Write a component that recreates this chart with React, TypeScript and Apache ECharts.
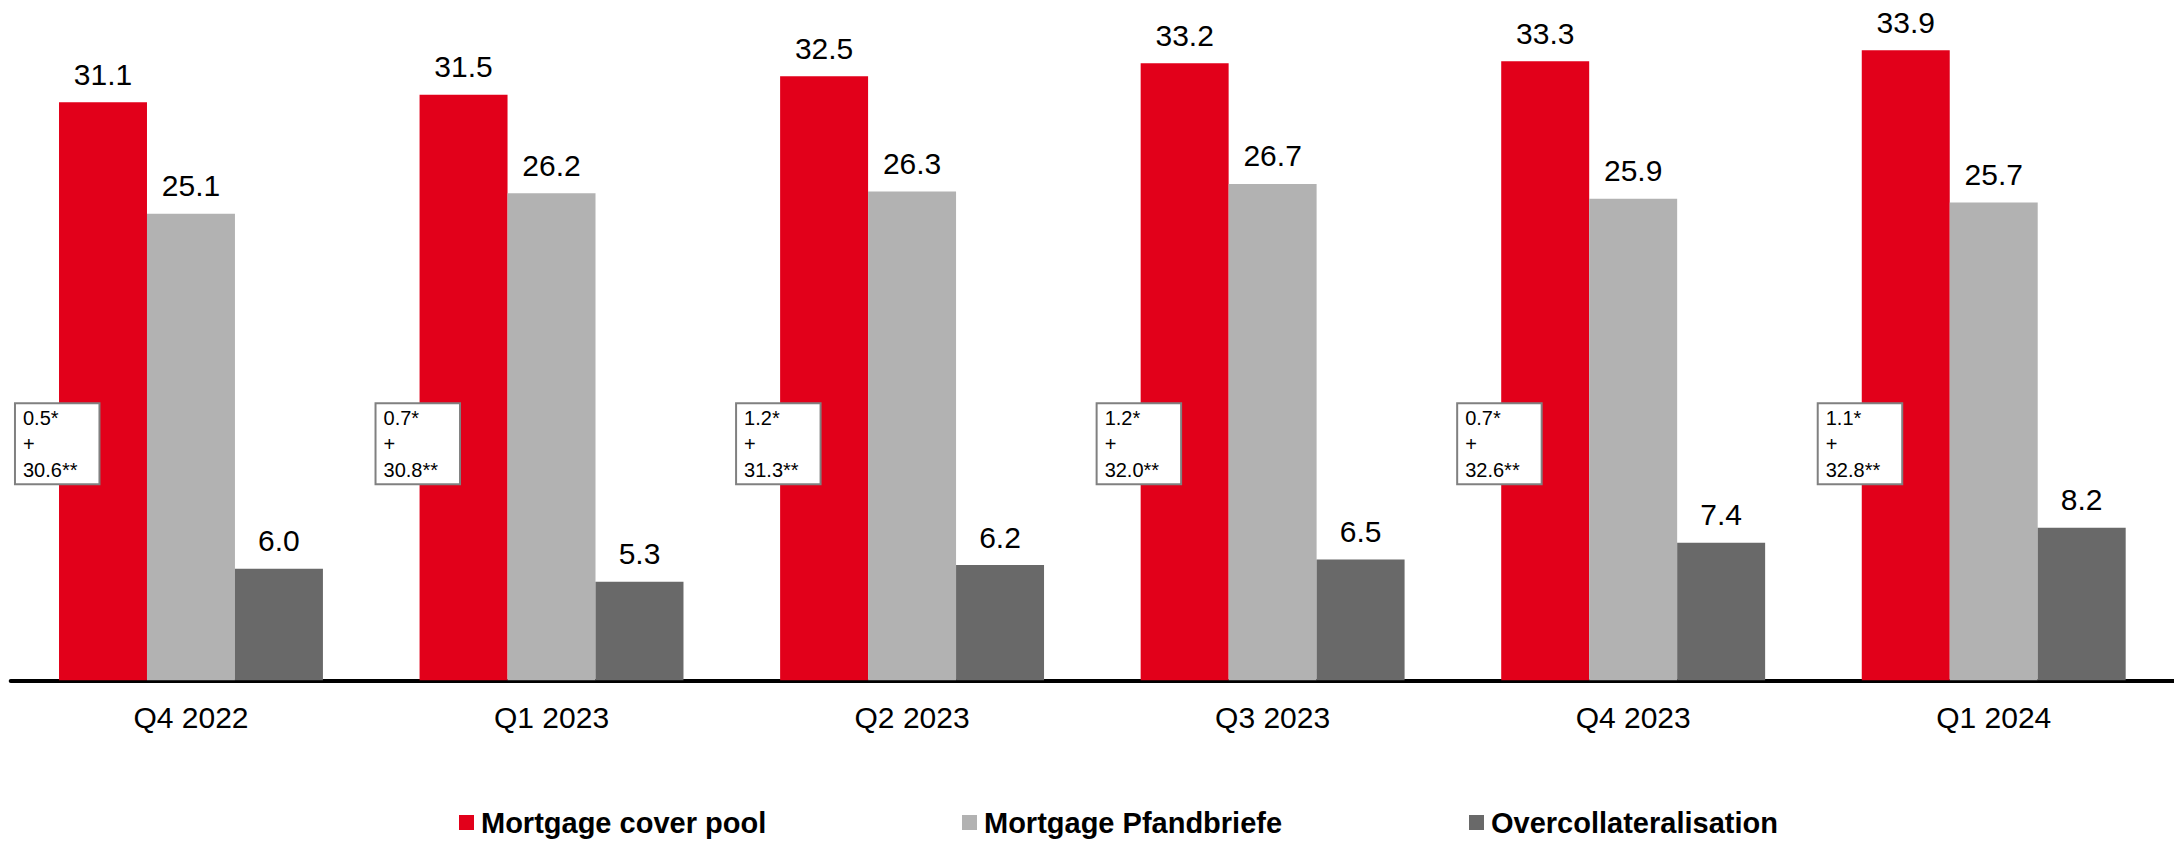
import React, { useEffect, useRef } from "react";
import * as echarts from "echarts";

const categories = ["Q4 2022", "Q1 2023", "Q2 2023", "Q3 2023", "Q4 2023", "Q1 2024"];
const coverPool = [31.1, 31.5, 32.5, 33.2, 33.3, 33.9];
const pfandbriefe = [25.1, 26.2, 26.3, 26.7, 25.9, 25.7];
const overcollateralisation = [6.0, 5.3, 6.2, 6.5, 7.4, 8.2];
const annotFirst = ["0.5*", "0.7*", "1.2*", "1.2*", "0.7*", "1.1*"];
const annotSecond = ["30.6**", "30.8**", "31.3**", "32.0**", "32.6**", "32.8**"];
const seriesNames = ["Mortgage cover pool", "Mortgage Pfandbriefe", "Overcollateralisation"];

const FONT = "'Liberation Sans', Arial, Helvetica, sans-serif";
const COLORS = ["#E2001A", "#B2B2B2", "#696969"];
const ANNOT_Y = 12.73;

export default function App() {
  const ref = useRef<HTMLDivElement>(null);

  useEffect(() => {
    if (!ref.current) return;
    const chart = echarts.init(ref.current, undefined, { renderer: "svg" });

    const valueLabel = {
      show: true,
      position: "top",
      distance: 13,
      fontSize: 30,
      fontFamily: FONT,
      color: "#000",
      formatter: (p: any) => Number(p.value).toFixed(1),
    };

    const barSeries = [coverPool, pfandbriefe, overcollateralisation].map((d, i) => ({
      name: seriesNames[i],
      type: "bar",
      data: d,
      barGap: "0%",
      barCategoryGap: "26.8%",
      itemStyle: { color: COLORS[i] },
      label: valueLabel,
      z: 2,
    }));

    const legendLefts = [459, 962, 1469];

    chart.setOption({
      animation: false,
      textStyle: { fontFamily: FONT },
      grid: { left: 10.7, width: 2176.2, top: 11.1, bottom: 161.7, containLabel: false },
      xAxis: {
        type: "category",
        data: categories,
        axisTick: { show: false },
        axisLine: { lineStyle: { color: "#000", width: 4 } },
        axisLabel: { fontSize: 30, color: "#000", margin: 22, fontFamily: FONT },
        splitLine: { show: false },
      },
      yAxis: {
        type: "value",
        min: 0,
        max: 36,
        show: false,
        splitLine: { show: false },
      },
      legend: seriesNames.map((n, i) => ({
        data: [n],
        left: legendLefts[i],
        top: 808,
        padding: 0,
        icon: "rect",
        itemWidth: 15,
        itemHeight: 15,
        selectedMode: false,
        textStyle: {
          fontSize: 29,
          fontWeight: "bold",
          color: "#000",
          fontFamily: FONT,
          padding: [0, 0, 0, 2],
        },
      })),
      series: [
        ...barSeries,
        {
          name: "annotations",
          type: "scatter",
          symbolSize: 0,
          silent: true,
          z: 10,
          itemStyle: { opacity: 1 },
          data: categories.map((_, i) => [i, ANNOT_Y]),
          label: {
            show: true,
            opacity: 1,
            position: "inside",
            align: "left",
            verticalAlign: "middle",
            offset: [-175, 0],
            formatter: (p: any) => `${annotFirst[p.dataIndex]}\n+\n${annotSecond[p.dataIndex]}`,
            fontSize: 20,
            lineHeight: 26,
            fontFamily: FONT,
            color: "#000",
            backgroundColor: "#fff",
            borderColor: "#808080",
            borderWidth: 2,
            padding: [1, 21, 0, 7],
          },
        },
      ],
    });

    return () => chart.dispose();
  }, []);

  return (
    <div
      ref={ref}
      style={{ position: "fixed", left: 0, top: 0, width: 2174, height: 842, background: "#fff" }}
    />
  );
}
